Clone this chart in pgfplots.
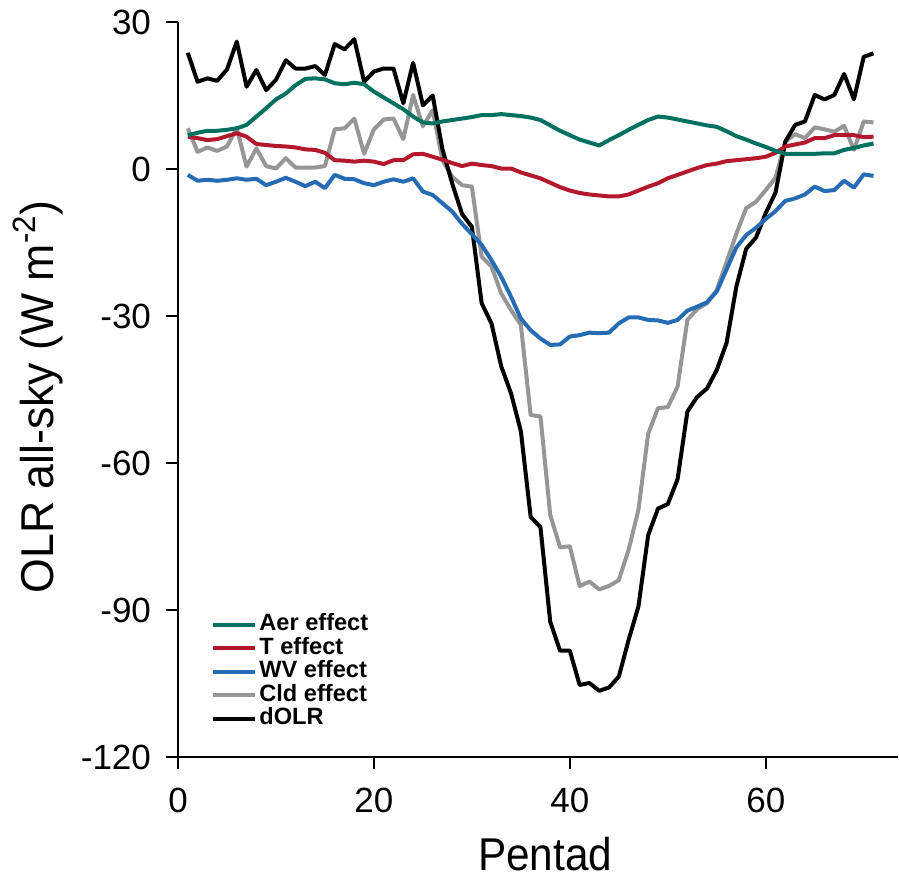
\documentclass[border=0pt]{standalone}
\usepackage{pgfplots}
\pgfplotsset{compat=1.18}
\usepackage{pgfplotstable}
\usepackage{graphicx}
\usepackage{fontspec}
\setmainfont{Liberation Sans}

\definecolor{aerc}{RGB}{0,112,96}
\definecolor{tc}{RGB}{180,24,44}
\definecolor{wvc}{RGB}{38,108,180}
\definecolor{cldc}{RGB}{150,150,150}

% pentad, Aer, T, WV, Cld, dOLR
\pgfplotstableread{
x aer t wv cld dolr
1 6.9 6.6 -1.2 8.3 23.7
2 7.4 6.3 -2.4 3.5 17.8
3 7.8 5.9 -2.2 4.4 18.5
4 7.8 6.1 -2.4 3.7 18.0
5 8.0 6.7 -2.2 4.6 20.3
6 8.3 7.3 -1.9 8.3 26.0
7 9.0 6.6 -2.2 0.5 16.8
8 10.7 5.1 -2.0 4.2 20.2
9 12.4 4.9 -3.3 0.6 16.1
10 14.2 4.7 -2.6 0.1 18.2
11 15.4 4.6 -1.8 2.2 22.2
12 17.1 4.4 -2.6 0.3 20.5
13 18.4 4.0 -3.5 0.3 20.5
14 18.5 3.9 -2.6 0.3 21.0
15 18.3 3.3 -3.9 0.6 19.2
16 17.5 1.8 -1.2 8.1 25.5
17 17.3 1.7 -2.0 8.3 24.4
18 17.6 1.5 -2.1 10.3 26.5
19 17.3 1.7 -2.9 3.1 17.8
20 15.8 1.5 -3.3 8.1 19.9
21 14.6 1.0 -2.6 10.1 20.5
22 13.4 1.8 -2.1 10.3 20.5
23 12.2 1.8 -2.6 6.1 13.4
24 10.7 3.0 -1.9 15.1 21.7
25 9.5 3.1 -4.6 8.7 13.0
26 9.3 2.5 -5.3 12.0 15.0
27 9.7 1.9 -7.0 1.8 4.0
28 10.0 1.2 -8.7 -1.6 -3.0
29 10.3 0.6 -11.2 -3.3 -9.2
30 10.6 1.1 -13.3 -3.6 -11.8
31 11.0 0.8 -15.5 -17.9 -27.4
32 11.0 0.6 -18.6 -19.9 -31.5
33 11.2 0.1 -22.0 -25.4 -40.3
34 11.0 0.1 -26.1 -28.8 -45.8
35 10.8 -0.7 -30.5 -31.8 -53.5
36 10.5 -1.3 -32.9 -50.2 -71.0
37 10.0 -1.9 -34.6 -50.5 -73.1
38 8.9 -2.8 -35.9 -70.6 -92.4
39 7.8 -3.7 -35.8 -77.2 -98.3
40 6.9 -4.4 -34.2 -77.0 -98.3
41 6.0 -4.9 -33.9 -85.1 -105.3
42 5.4 -5.2 -33.4 -84.2 -104.9
43 4.8 -5.4 -33.5 -85.8 -106.5
44 5.9 -5.6 -33.4 -85.1 -105.8
45 6.9 -5.6 -31.5 -83.9 -103.6
46 8.0 -5.2 -30.3 -77.7 -96.1
47 9.0 -4.4 -30.3 -69.6 -89.3
48 10.0 -3.6 -30.8 -54.0 -74.7
49 10.7 -2.9 -30.9 -48.8 -69.3
50 10.5 -1.9 -31.4 -48.6 -68.4
51 10.1 -1.2 -30.8 -44.4 -63.3
52 9.7 -0.5 -28.9 -30.8 -49.5
53 9.3 0.2 -28.1 -28.6 -46.5
54 8.9 0.8 -27.2 -27.4 -44.8
55 8.6 1.1 -25.0 -24.7 -41.0
56 7.7 1.6 -20.5 -19.0 -35.5
57 6.7 1.8 -16.0 -13.2 -24.0
58 6.0 2.0 -13.5 -8.0 -16.3
59 5.2 2.2 -12.0 -6.7 -14.0
60 4.5 2.5 -10.2 -4.3 -9.0
61 3.7 3.3 -8.6 -1.8 -4.8
62 3.1 4.6 -6.5 5.6 5.6
63 3.1 5.0 -6.0 7.1 9.0
64 3.1 5.4 -5.2 6.3 9.7
65 3.1 6.3 -3.6 8.5 15.1
66 3.2 6.3 -4.5 8.1 14.2
67 3.2 6.9 -4.3 7.6 15.1
68 3.9 6.9 -2.4 8.8 19.4
69 4.3 6.9 -3.8 3.9 14.2
70 4.8 6.5 -1.1 9.7 22.9
71 5.2 6.6 -1.4 9.5 23.6
}\datatable

\begin{document}
\begin{tikzpicture}
\useasboundingbox (-89pt,-61.5pt) rectangle (360.5pt,378.5pt);
\begin{axis}[
    width=360pt, height=367.5pt, scale only axis,
    xmin=0, xmax=73.5, ymin=-120, ymax=30,
    axis x line*=bottom, axis y line*=left,
    xtick={0,20,40,60}, ytick={-120,-90,-60,-30,0,30},
    tick align=outside, major tick length=6pt,
    axis line style={line width=1pt, -},
    tick style={line width=1pt, black},
    /pgf/number format/assume math mode=true,
    ticklabel style={font=\fontsize{17.5}{20}\selectfont},
    xticklabel style={yshift=-6pt},
    yticklabel style={xshift=-4pt},
    label style={font=\fontsize{23}{26}\selectfont},
    xlabel={\scalebox{0.92}[1]{Pentad}},
    ylabel={\scalebox{0.97}[1]{OLR all-sky (W m\textsuperscript{-2})}},
    xlabel style={at={(axis description cs:0.51,-0.155)}, anchor=base},
    ylabel style={at={(axis description cs:-0.194,0.49)}, anchor=center},
    legend style={at={(axis description cs:0.045,0.196)}, anchor=north west,
        draw=none, fill=none, inner sep=0pt, column sep=0.5pt,
        font=\bfseries\fontsize{11.8}{13}\selectfont,
        nodes={inner sep=0.8pt, text height=8pt, text depth=2.1pt}},
    legend cell align=left,
    legend image code/.code={\draw[#1, line width=2pt] (0pt,0pt) -- (21pt,0pt);},
    every axis plot/.append style={line width=2pt, line join=round},
]
\addlegendimage{aerc}
\addlegendimage{tc}
\addlegendimage{wvc}
\addlegendimage{cldc}
\addlegendimage{black}
\addplot[cldc, forget plot] table[x=x, y=cld] {\datatable};
\addplot[black, forget plot] table[x=x, y=dolr] {\datatable};
\addplot[wvc, forget plot] table[x=x, y=wv] {\datatable};
\addplot[tc, forget plot] table[x=x, y=t] {\datatable};
\addplot[aerc, forget plot] table[x=x, y=aer] {\datatable};
\legend{Aer effect, T effect, WV effect, Cld effect, dOLR}
\end{axis}
\end{tikzpicture}
\end{document}
